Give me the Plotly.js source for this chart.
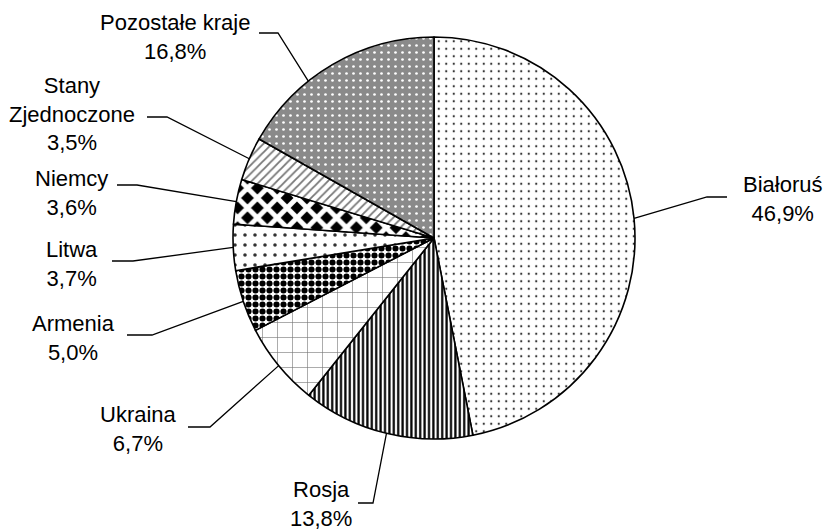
<!DOCTYPE html>
<html>
<head>
<meta charset="utf-8">
<script src="https://cdn.plot.ly/plotly-3.0.1.min.js"></script>
<style>html,body{margin:0;padding:0;background:#fff;}#chart{width:825px;height:531px;}</style>
</head>
<body>
<div id="chart"></div>
<script>
// ---- data ----
const categories = ["Białoruś", "Rosja", "Ukraina", "Armenia", "Litwa", "Niemcy", "Stany<br>Zjednoczone", "Pozostałe kraje"];
const shares = [46.9, 13.8, 6.7, 5.0, 3.7, 3.6, 3.5, 16.8];

// ---- styles (patterns) ----
const patShapes = [".", "|", "+", ".", ".", "x", "/", "."];
const patFg     = ["#333", "#000", "#777", "#000", "#333", "#fff", "#777", "#fff"];
const patBg     = ["#fff", "#fff", "#fff", "#fff", "#fff", "#000", "#fff", "#8a8a8a"];
const patSize   = [7.5, 4.4, 15, 7, 10, 14, 6, 7];
const patSolid  = [0.07, 0.5, 0.08, 0.6, 0.1, 0.58, 0.3, 0.12];

// ---- layout geometry (pixels) ----
const W = 825, H = 531;
const CX = 434, CY = 238, R = 201;
const labelPos = [[782,199],[321,504],[138,429],[73,338],[72,264],[71,193],[72,114],[175,37]];
const elbow    = [[707,197,727],[373,503,358],[210,427,188],[152,335,127],[133,261,112],[137,185,117],[167,117,147],[278,33,259]];
const anchorFrac = [0.5,0.5,0.5,0.5,0.5,0.5,0.5,0.36];

const px = x => x / W;
const py = y => 1 - y / H;

const total = shares.reduce((a,b)=>a+b,0);
const annotations = [];
const shapes = [];
let cum = 0;
shares.forEach((v, i) => {
  const frac = (cum + v * anchorFrac[i]) / total;
  cum += v;
  const ang = frac * 2 * Math.PI; // clockwise from 12 o'clock
  const ex = CX + R * Math.sin(ang);
  const ey = CY - R * Math.cos(ang);
  const [bx, by, hx] = elbow[i];
  shapes.push({
    type: "path", xref: "paper", yref: "paper",
    path: `M ${px(ex)},${py(ey)} L ${px(bx)},${py(by)} L ${px(hx)},${py(by)}`,
    line: {color: "#000", width: 1.3}
  });
  annotations.push({
    x: px(labelPos[i][0]), y: py(labelPos[i][1]), xref: "paper", yref: "paper",
    xanchor: "center", yanchor: "middle", align: "center", showarrow: false,
    text: categories[i] + "<br>" + v.toFixed(1).replace(".", ",") + "%",
    font: {family: "Liberation Sans, Arial, sans-serif", size: 22, color: "#000"}
  });
});

const trace = {
  type: "pie",
  values: shares,
  labels: categories,
  sort: false,
  direction: "clockwise",
  rotation: 0,
  textinfo: "none",
  hoverinfo: "none",
  showlegend: false,
  domain: {x: [px(CX - R), px(CX + R)], y: [py(CY + R), py(CY - R)]},
  marker: {
    line: {color: "#000", width: 1.6},
    colors: patBg,
    pattern: {shape: patShapes, fgcolor: patFg, bgcolor: patBg, size: patSize, solidity: patSolid, fillmode: "replace"}
  }
};

Plotly.newPlot("chart", [trace], {
  width: W, height: H,
  margin: {l: 0, r: 0, t: 0, b: 0},
  paper_bgcolor: "#fff",
  showlegend: false,
  annotations: annotations,
  shapes: shapes
}, {staticPlot: true});
</script>
</body>
</html>
